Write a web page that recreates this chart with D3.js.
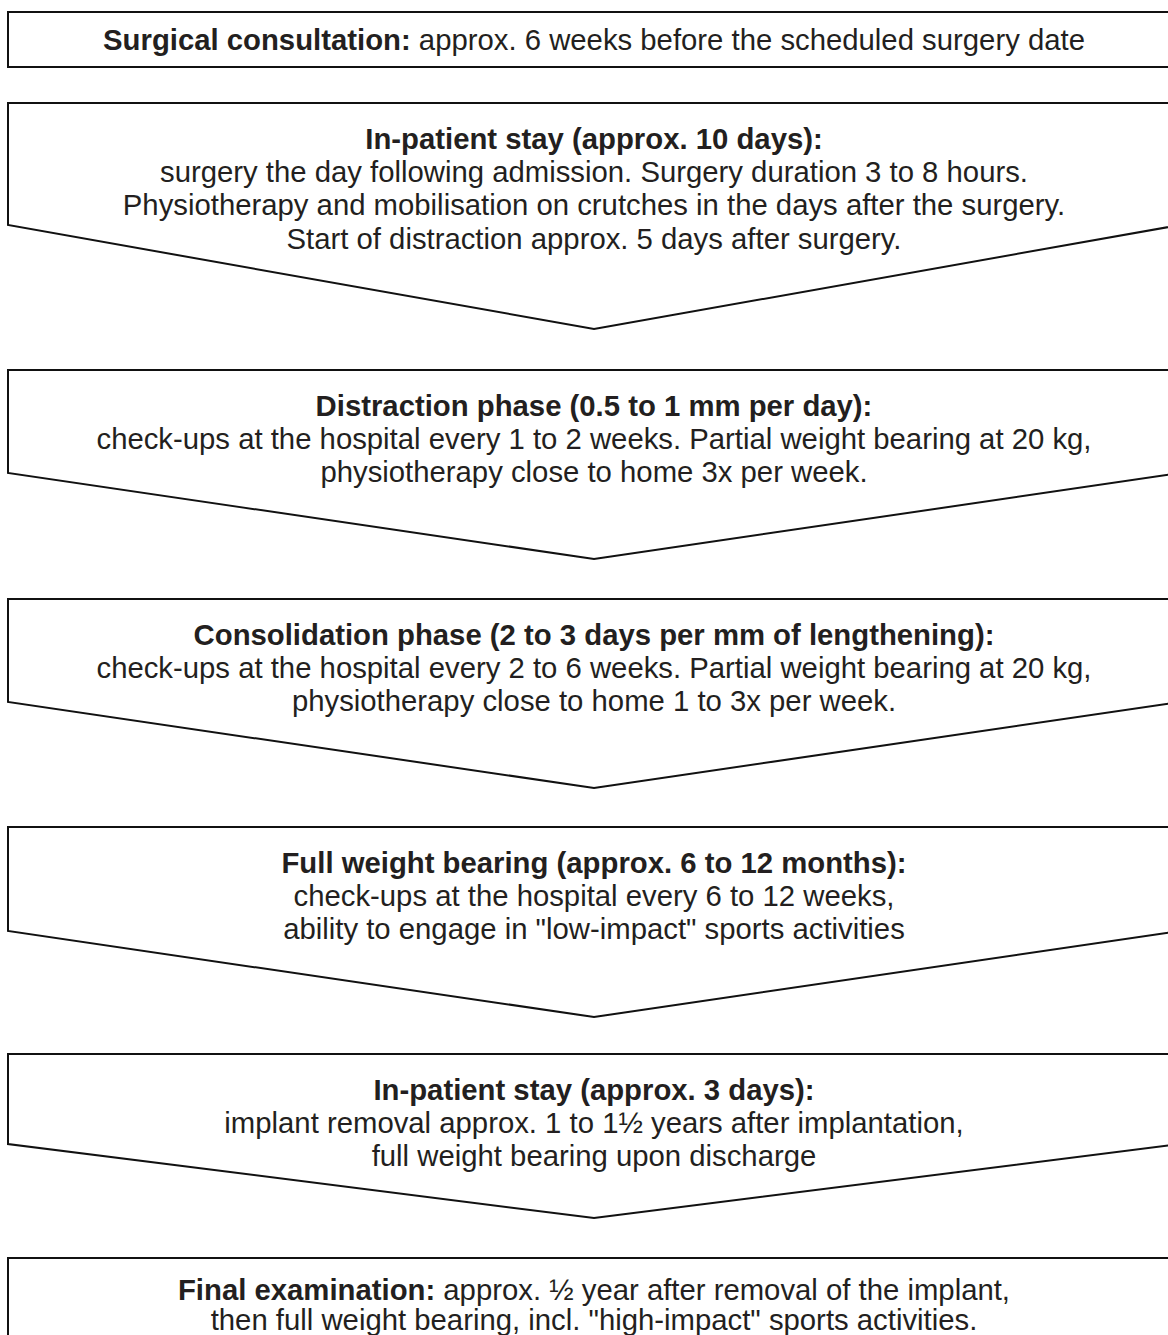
<!DOCTYPE html>
<html>
<head>
<meta charset="utf-8">
<script src="https://cdn.jsdelivr.net/npm/d3@7"></script>
<style>
  html, body { margin: 0; padding: 0; background: #fff; }
  svg { display: block; }
</style>
</head>
<body>
<div id="chart"></div>
<script>
// etapas do tratamento (texto)
const stageTitles = [
  "Surgical consultation:",
  "In-patient stay (approx. 10 days):",
  "Distraction phase (0.5 to 1 mm per day):",
  "Consolidation phase (2 to 3 days per mm of lengthening):",
  "Full weight bearing (approx. 6 to 12 months):",
  "In-patient stay (approx. 3 days):",
  "Final examination:"
];

const stageBodies = [
  ["approx. 6 weeks before the scheduled surgery date"],
  ["surgery the day following admission. Surgery duration 3 to 8 hours.",
   "Physiotherapy and mobilisation on crutches in the days after the surgery.",
   "Start of distraction approx. 5 days after surgery."],
  ["check-ups at the hospital every 1 to 2 weeks. Partial weight bearing at 20 kg,",
   "physiotherapy close to home 3x per week."],
  ["check-ups at the hospital every 2 to 6 weeks. Partial weight bearing at 20 kg,",
   "physiotherapy close to home 1 to 3x per week."],
  ["check-ups at the hospital every 6 to 12 weeks,",
   "ability to engage in \"low-impact\" sports activities"],
  ["implant removal approx. 1 to 1½ years after implantation,",
   "full weight bearing upon discharge"],
  ["approx. ½ year after removal of the implant,",
   "then full weight bearing, incl. \"high-impact\" sports activities."]
];

// título na mesma linha do texto?
const inlineTitle = [true, false, false, false, false, false, true];

// tipo de caixa: retângulo ou seta
const shapeType = ["rect", "arrow", "arrow", "arrow", "arrow", "arrow", "rect"];

const width = 1168;
const height = 1335;

// geometria de cada caixa (topo, altura do lado, profundidade da ponta)
const boxTop = [12, 103, 370, 599, 827, 1054, 1258];
const boxSide = [55, 122, 103, 103, 104, 90, 120];
const boxTip = [0, 104, 86, 86, 86, 74, 0];

const left = 8, right = 1180, centerX = 594;
const lineGap = 33.3;
const firstLine = 35.5;

const svg = d3.select("#chart")
  .append("svg")
  .attr("width", width)
  .attr("height", height);

const x = d3.scaleLinear().domain([0, 1]).range([left, right]);

const line = d3.line();

const stages = stageTitles.map((t, i) => ({
  title: t, body: stageBodies[i], inline: inlineTitle[i], shape: shapeType[i],
  top: boxTop[i], side: boxSide[i], tip: boxTip[i]
}));

const g = svg.selectAll("g.stage")
  .data(stages)
  .enter()
  .append("g")
  .attr("class", "stage");

g.append("path")
  .attr("d", d => {
    const b = d.top + d.side;
    const pts = d.shape === "rect"
      ? [[x(0), d.top], [x(1), d.top], [x(1), b], [x(0), b]]
      : [[x(0), d.top], [x(1), d.top], [x(1), b], [centerX, b + d.tip], [x(0), b]];
    return line(pts) + "Z";
  })
  .attr("fill", "#fff")
  .attr("stroke", "#111")
  .attr("stroke-width", 2)
  .attr("stroke-linejoin", "miter");

g.each(function(d) {
  const sel = d3.select(this);
  const rows = d.inline
    ? [[{ t: d.title + " ", bold: true }, { t: d.body[0], bold: false }]].concat(d.body.slice(1).map(s => [{ t: s, bold: false }]))
    : [[{ t: d.title, bold: true }]].concat(d.body.map(s => [{ t: s, bold: false }]));

  // última caixa: texto um pouco mais alto para caber na janela
  const center = d.shape === "rect" && d.body.length === 1 ? d.top + d.side / 2 : d.top + (d.shape === "rect" ? 32 : firstLine);
  const gap = d.shape === "rect" ? 29.5 : lineGap;

  rows.forEach((row, r) => {
    const txt = sel.append("text")
      .attr("x", centerX)
      .attr("y", center + r * gap)
      .attr("dy", "0.35em")
      .attr("text-anchor", "middle")
      .style("font-family", "'Liberation Sans', Arial, sans-serif")
      .style("font-size", "29.3px")
      .style("fill", "#231f20");
    row.forEach(part => {
      txt.append("tspan")
        .style("font-weight", part.bold ? "bold" : "normal")
        .text(part.t);
    });
  });
});
</script>
</body>
</html>
